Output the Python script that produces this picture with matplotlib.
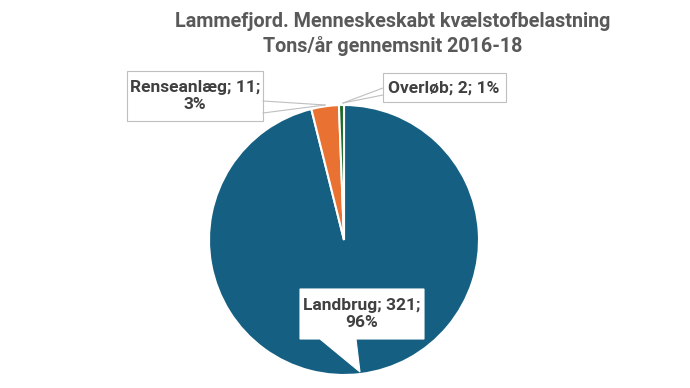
import matplotlib
matplotlib.use("Agg")
import matplotlib.pyplot as plt
from matplotlib.patches import Polygon, Rectangle

categories = ["Landbrug", "Renseanlæg", "Overløb"]
values = [321, 11, 2]
percents = ["96%", "3%", "1%"]
colors = ["#156082", "#E97132", "#196B24"]
title = "Lammefjord. Menneskeskabt kvælstofbelastning\nTons/år gennemsnit 2016-18"

W, H = 690, 388
fig = plt.figure(figsize=(W / 100, H / 100), dpi=100)
plt.rcParams['font.family'] = ['Roboto', 'DejaVu Sans']

def fx(x):
    return x / W

def fy(y):
    return 1 - y / H

cx, cy, r = 344, 240, 135
ax = fig.add_axes([fx(cx - r), fy(cy + r), 2 * r / W, 2 * r / H])
ax.pie(values, colors=colors, startangle=90, counterclock=False, radius=1,
       wedgeprops=dict(edgecolor="white", linewidth=1.5))
ax.set_xlim(-1, 1)
ax.set_ylim(-1, 1)
ax.set_aspect("auto")
ax.axis("off")

tc = "#595959"
fig.text(fx(393), fy(34), title, ha="center", va="center", fontsize=14.2,
         fontweight="bold", color=tc, linespacing=1.3)

def pt(x, y):
    return (fx(x), fy(y))

lc = "#404040"
edge = "#BFBFBF"

# Landbrug callout (box with pointer)
poly = [pt(300, 289), pt(424, 289), pt(424, 339), pt(356, 339), pt(360, 372),
        pt(320, 339), pt(300, 339)]
fig.patches.append(Polygon(poly, closed=True, facecolor="white", edgecolor="white",
                           linewidth=0.8, transform=fig.transFigure))
fig.text(fx(362), fy(314), f"{categories[0]}; {values[0]};\n{percents[0]}", ha="center",
         va="center", fontsize=12.5, fontweight="bold", color=lc, linespacing=1.2)

# Renseanlæg callout
fig.patches.append(Rectangle(pt(127, 121), (263 - 127) / W, (121 - 71) / H, facecolor="white",
                             edgecolor=edge, linewidth=0.8, transform=fig.transFigure))
fig.lines.append(plt.Line2D([fx(263), fx(325)], [fy(101), fy(105)], color=edge, lw=0.8,
                            transform=fig.transFigure))
fig.lines.append(plt.Line2D([fx(263), fx(325)], [fy(113), fy(105)], color=edge, lw=0.8,
                            transform=fig.transFigure))
fig.text(fx(195), fy(96), f"{categories[1]}; {values[1]};\n{percents[1]}", ha="center",
         va="center", fontsize=12.5, fontweight="bold", color=lc, linespacing=1.2)

# Overløb callout
fig.patches.append(Rectangle(pt(383, 102), (506 - 383) / W, (102 - 73) / H, facecolor="white",
                             edgecolor=edge, linewidth=0.8, transform=fig.transFigure))
fig.lines.append(plt.Line2D([fx(383), fx(343)], [fy(88), fy(103)], color=edge, lw=0.8,
                            transform=fig.transFigure))
fig.lines.append(plt.Line2D([fx(383), fx(343)], [fy(95), fy(103)], color=edge, lw=0.8,
                            transform=fig.transFigure))
fig.text(fx(444), fy(88), f"{categories[2]}; {values[2]}; {percents[2]}", ha="center",
         va="center", fontsize=12.5, fontweight="bold", color=lc)

fig.savefig("out.png", dpi=100, facecolor="white")
